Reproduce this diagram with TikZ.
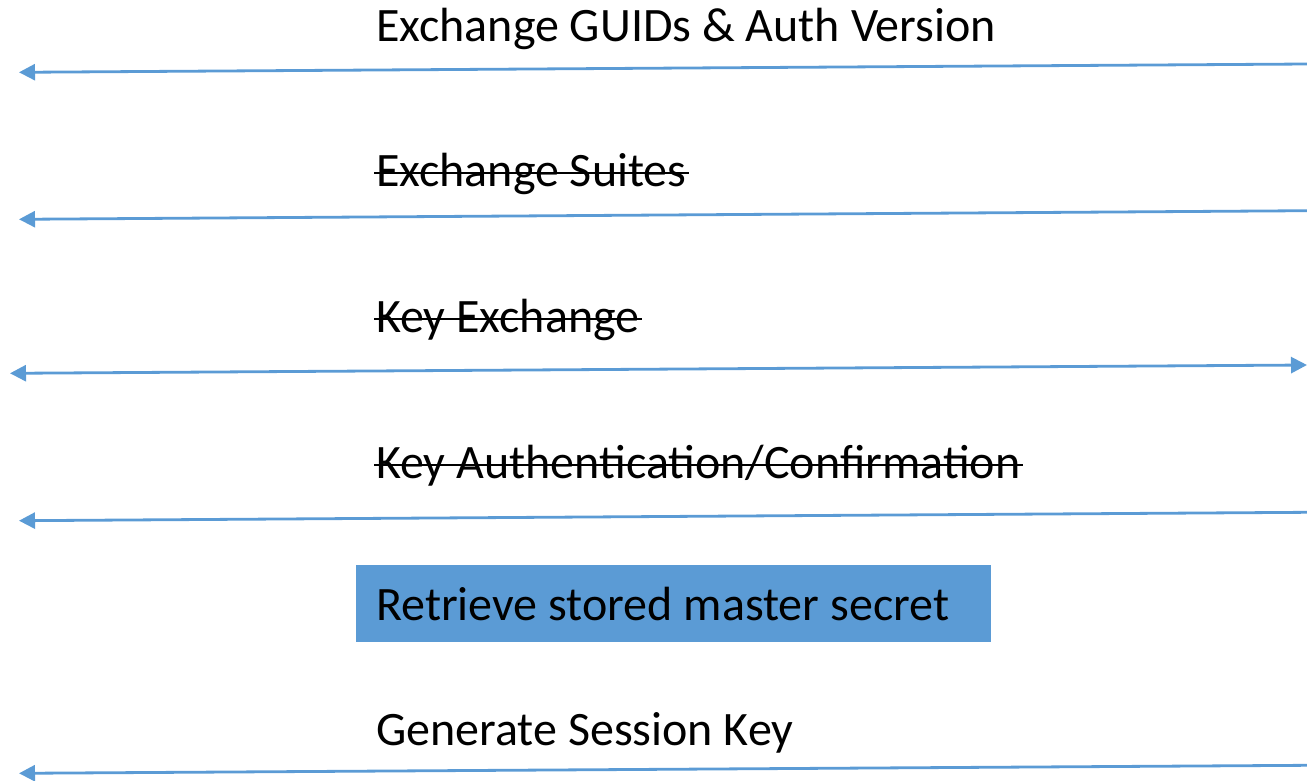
\documentclass[tikz,border=0pt]{standalone}
\usepackage{fontspec}
\setmainfont{Carlito}
\usetikzlibrary{arrows.meta}
\definecolor{msgblue}{HTML}{5B9BD5}
\begin{document}
\begin{tikzpicture}[x=1pt,y=-1pt,
  msg/.style={draw=msgblue,line width=2.8pt,-{Triangle[length=16pt,width=16pt]}},
  msgboth/.style={draw=msgblue,line width=2.8pt,{Triangle[length=16pt,width=16pt]}-{Triangle[length=16pt,width=16pt]}},
  lbl/.style={anchor=base west,inner sep=0pt,font=\fontsize{48}{54}\selectfont},
  strike/.style={draw=black,line width=2.8pt},
  stepbox/.style={fill=msgblue,draw=none,inner sep=0pt}]
\useasboundingbox (0,0) rectangle (1307,780);
% endpoints
\coordinate (r1) at (1307,64);  \coordinate (l1) at (19,72.3);
\coordinate (r2) at (1307,210.7); \coordinate (l2) at (19,219.3);
\coordinate (l3) at (10,373.3); \coordinate (r3) at (1307,365);
\coordinate (r4) at (1307,512.3); \coordinate (l4) at (19,520.7);
\coordinate (r6) at (1307,765.3); \coordinate (l6) at (19,773.3);
% labels
\node[lbl] (t1) at (376,41) {Exchange GUIDs \& Auth Version};
\node[lbl] (t2) at (376,186) {Exchange Suites};
\node[lbl] (t3) at (376,332) {Key Exchange};
\node[lbl] (t4) at (376,478) {Key Authentication/Confirmation};
\path[stepbox] (356,565) rectangle (991,642);
\node[lbl] (t5) at (376,620) {Retrieve stored master secret};
\node[lbl] (t6) at (376,745) {Generate Session Key};
% strike-through lines
\draw[strike] ([xshift=-2pt,yshift=13pt]t2.base west) -- ([xshift=2pt,yshift=13pt]t2.base east);
\draw[strike] ([xshift=-2pt,yshift=13pt]t3.base west) -- ([xshift=2pt,yshift=13pt]t3.base east);
\draw[strike] ([xshift=-2pt,yshift=13pt]t4.base west) -- ([xshift=2pt,yshift=13pt]t4.base east);
% arrows
\draw[msg] (r1) -- (l1);
\draw[msg] (r2) -- (l2);
\draw[msgboth] (l3) -- (r3);
\draw[msg] (r4) -- (l4);
\draw[msg] (r6) -- (l6);
\end{tikzpicture}
\end{document}
